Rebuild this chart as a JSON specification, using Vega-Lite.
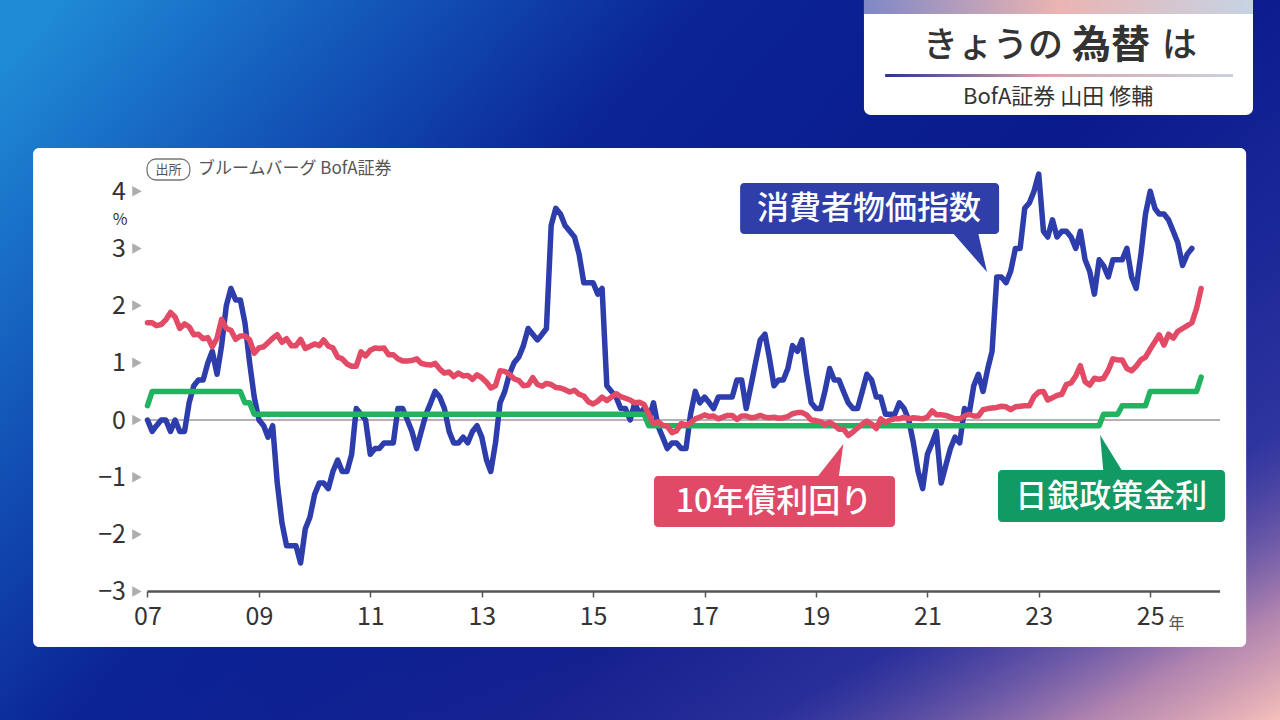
{
  "$schema": "https://vega.github.io/schema/vega-lite/v6.json",
  "width": 1280,
  "height": 720,
  "autosize": "none",
  "padding": 0,
  "background": "#0b1e92",
  "config": {"view": {"stroke": null}, "font": "Noto Sans CJK JP", "axis": {"grid": false, "domain": false, "title": null}},
  "datasets": {
    "series": [
      {"date":"2007-01","cpi":0.0,"jgb":1.70,"boj":0.25},
      {"date":"2007-02","cpi":-0.2,"jgb":1.70,"boj":0.5},
      {"date":"2007-03","cpi":-0.1,"jgb":1.65,"boj":0.5},
      {"date":"2007-04","cpi":0.0,"jgb":1.67,"boj":0.5},
      {"date":"2007-05","cpi":0.0,"jgb":1.75,"boj":0.5},
      {"date":"2007-06","cpi":-0.2,"jgb":1.88,"boj":0.5},
      {"date":"2007-07","cpi":0.0,"jgb":1.80,"boj":0.5},
      {"date":"2007-08","cpi":-0.2,"jgb":1.60,"boj":0.5},
      {"date":"2007-09","cpi":-0.2,"jgb":1.68,"boj":0.5},
      {"date":"2007-10","cpi":0.3,"jgb":1.63,"boj":0.5},
      {"date":"2007-11","cpi":0.6,"jgb":1.49,"boj":0.5},
      {"date":"2007-12","cpi":0.7,"jgb":1.50,"boj":0.5},
      {"date":"2008-01","cpi":0.7,"jgb":1.42,"boj":0.5},
      {"date":"2008-02","cpi":1.0,"jgb":1.44,"boj":0.5},
      {"date":"2008-03","cpi":1.2,"jgb":1.28,"boj":0.5},
      {"date":"2008-04","cpi":0.8,"jgb":1.43,"boj":0.5},
      {"date":"2008-05","cpi":1.3,"jgb":1.76,"boj":0.5},
      {"date":"2008-06","cpi":2.0,"jgb":1.60,"boj":0.5},
      {"date":"2008-07","cpi":2.3,"jgb":1.57,"boj":0.5},
      {"date":"2008-08","cpi":2.1,"jgb":1.41,"boj":0.5},
      {"date":"2008-09","cpi":2.1,"jgb":1.47,"boj":0.5},
      {"date":"2008-10","cpi":1.7,"jgb":1.47,"boj":0.3},
      {"date":"2008-11","cpi":1.0,"jgb":1.40,"boj":0.3},
      {"date":"2008-12","cpi":0.4,"jgb":1.17,"boj":0.1},
      {"date":"2009-01","cpi":0.0,"jgb":1.26,"boj":0.1},
      {"date":"2009-02","cpi":-0.1,"jgb":1.28,"boj":0.1},
      {"date":"2009-03","cpi":-0.3,"jgb":1.35,"boj":0.1},
      {"date":"2009-04","cpi":-0.1,"jgb":1.43,"boj":0.1},
      {"date":"2009-05","cpi":-1.1,"jgb":1.49,"boj":0.1},
      {"date":"2009-06","cpi":-1.8,"jgb":1.36,"boj":0.1},
      {"date":"2009-07","cpi":-2.2,"jgb":1.42,"boj":0.1},
      {"date":"2009-08","cpi":-2.2,"jgb":1.30,"boj":0.1},
      {"date":"2009-09","cpi":-2.2,"jgb":1.30,"boj":0.1},
      {"date":"2009-10","cpi":-2.5,"jgb":1.41,"boj":0.1},
      {"date":"2009-11","cpi":-1.9,"jgb":1.25,"boj":0.1},
      {"date":"2009-12","cpi":-1.7,"jgb":1.29,"boj":0.1},
      {"date":"2010-01","cpi":-1.3,"jgb":1.33,"boj":0.1},
      {"date":"2010-02","cpi":-1.1,"jgb":1.30,"boj":0.1},
      {"date":"2010-03","cpi":-1.1,"jgb":1.40,"boj":0.1},
      {"date":"2010-04","cpi":-1.2,"jgb":1.29,"boj":0.1},
      {"date":"2010-05","cpi":-0.9,"jgb":1.26,"boj":0.1},
      {"date":"2010-06","cpi":-0.7,"jgb":1.10,"boj":0.1},
      {"date":"2010-07","cpi":-0.9,"jgb":1.07,"boj":0.1},
      {"date":"2010-08","cpi":-0.9,"jgb":0.98,"boj":0.1},
      {"date":"2010-09","cpi":-0.6,"jgb":0.94,"boj":0.1},
      {"date":"2010-10","cpi":0.2,"jgb":0.94,"boj":0.1},
      {"date":"2010-11","cpi":0.1,"jgb":1.19,"boj":0.1},
      {"date":"2010-12","cpi":0.0,"jgb":1.12,"boj":0.1},
      {"date":"2011-01","cpi":-0.6,"jgb":1.22,"boj":0.1},
      {"date":"2011-02","cpi":-0.5,"jgb":1.26,"boj":0.1},
      {"date":"2011-03","cpi":-0.5,"jgb":1.25,"boj":0.1},
      {"date":"2011-04","cpi":-0.4,"jgb":1.26,"boj":0.1},
      {"date":"2011-05","cpi":-0.4,"jgb":1.14,"boj":0.1},
      {"date":"2011-06","cpi":-0.4,"jgb":1.14,"boj":0.1},
      {"date":"2011-07","cpi":0.2,"jgb":1.07,"boj":0.1},
      {"date":"2011-08","cpi":0.2,"jgb":1.03,"boj":0.1},
      {"date":"2011-09","cpi":0.0,"jgb":1.03,"boj":0.1},
      {"date":"2011-10","cpi":-0.2,"jgb":1.04,"boj":0.1},
      {"date":"2011-11","cpi":-0.5,"jgb":1.07,"boj":0.1},
      {"date":"2011-12","cpi":-0.2,"jgb":0.99,"boj":0.1},
      {"date":"2012-01","cpi":0.1,"jgb":0.97,"boj":0.1},
      {"date":"2012-02","cpi":0.3,"jgb":0.96,"boj":0.1},
      {"date":"2012-03","cpi":0.5,"jgb":0.99,"boj":0.1},
      {"date":"2012-04","cpi":0.4,"jgb":0.89,"boj":0.1},
      {"date":"2012-05","cpi":0.2,"jgb":0.82,"boj":0.1},
      {"date":"2012-06","cpi":-0.2,"jgb":0.84,"boj":0.1},
      {"date":"2012-07","cpi":-0.4,"jgb":0.76,"boj":0.1},
      {"date":"2012-08","cpi":-0.4,"jgb":0.82,"boj":0.1},
      {"date":"2012-09","cpi":-0.3,"jgb":0.77,"boj":0.1},
      {"date":"2012-10","cpi":-0.4,"jgb":0.78,"boj":0.1},
      {"date":"2012-11","cpi":-0.2,"jgb":0.71,"boj":0.1},
      {"date":"2012-12","cpi":-0.1,"jgb":0.79,"boj":0.1},
      {"date":"2013-01","cpi":-0.3,"jgb":0.74,"boj":0.1},
      {"date":"2013-02","cpi":-0.7,"jgb":0.66,"boj":0.1},
      {"date":"2013-03","cpi":-0.9,"jgb":0.56,"boj":0.1},
      {"date":"2013-04","cpi":-0.4,"jgb":0.60,"boj":0.1},
      {"date":"2013-05","cpi":0.3,"jgb":0.86,"boj":0.1},
      {"date":"2013-06","cpi":0.5,"jgb":0.85,"boj":0.1},
      {"date":"2013-07","cpi":0.8,"jgb":0.80,"boj":0.1},
      {"date":"2013-08","cpi":1.0,"jgb":0.72,"boj":0.1},
      {"date":"2013-09","cpi":1.1,"jgb":0.69,"boj":0.1},
      {"date":"2013-10","cpi":1.3,"jgb":0.60,"boj":0.1},
      {"date":"2013-11","cpi":1.6,"jgb":0.61,"boj":0.1},
      {"date":"2013-12","cpi":1.5,"jgb":0.74,"boj":0.1},
      {"date":"2014-01","cpi":1.4,"jgb":0.62,"boj":0.1},
      {"date":"2014-02","cpi":1.5,"jgb":0.59,"boj":0.1},
      {"date":"2014-03","cpi":1.6,"jgb":0.64,"boj":0.1},
      {"date":"2014-04","cpi":3.4,"jgb":0.62,"boj":0.1},
      {"date":"2014-05","cpi":3.7,"jgb":0.57,"boj":0.1},
      {"date":"2014-06","cpi":3.6,"jgb":0.56,"boj":0.1},
      {"date":"2014-07","cpi":3.4,"jgb":0.53,"boj":0.1},
      {"date":"2014-08","cpi":3.3,"jgb":0.49,"boj":0.1},
      {"date":"2014-09","cpi":3.2,"jgb":0.52,"boj":0.1},
      {"date":"2014-10","cpi":2.9,"jgb":0.45,"boj":0.1},
      {"date":"2014-11","cpi":2.4,"jgb":0.42,"boj":0.1},
      {"date":"2014-12","cpi":2.4,"jgb":0.32,"boj":0.1},
      {"date":"2015-01","cpi":2.4,"jgb":0.28,"boj":0.1},
      {"date":"2015-02","cpi":2.2,"jgb":0.33,"boj":0.1},
      {"date":"2015-03","cpi":2.3,"jgb":0.40,"boj":0.1},
      {"date":"2015-04","cpi":0.6,"jgb":0.34,"boj":0.1},
      {"date":"2015-05","cpi":0.5,"jgb":0.40,"boj":0.1},
      {"date":"2015-06","cpi":0.4,"jgb":0.46,"boj":0.1},
      {"date":"2015-07","cpi":0.2,"jgb":0.41,"boj":0.1},
      {"date":"2015-08","cpi":0.2,"jgb":0.38,"boj":0.1},
      {"date":"2015-09","cpi":0.0,"jgb":0.35,"boj":0.1},
      {"date":"2015-10","cpi":0.3,"jgb":0.30,"boj":0.1},
      {"date":"2015-11","cpi":0.1,"jgb":0.31,"boj":0.1},
      {"date":"2015-12","cpi":0.2,"jgb":0.27,"boj":0.1},
      {"date":"2016-01","cpi":0.0,"jgb":0.10,"boj":-0.1},
      {"date":"2016-02","cpi":0.3,"jgb":-0.06,"boj":-0.1},
      {"date":"2016-03","cpi":-0.1,"jgb":-0.03,"boj":-0.1},
      {"date":"2016-04","cpi":-0.3,"jgb":-0.09,"boj":-0.1},
      {"date":"2016-05","cpi":-0.5,"jgb":-0.11,"boj":-0.1},
      {"date":"2016-06","cpi":-0.4,"jgb":-0.22,"boj":-0.1},
      {"date":"2016-07","cpi":-0.4,"jgb":-0.19,"boj":-0.1},
      {"date":"2016-08","cpi":-0.5,"jgb":-0.06,"boj":-0.1},
      {"date":"2016-09","cpi":-0.5,"jgb":-0.09,"boj":-0.1},
      {"date":"2016-10","cpi":0.1,"jgb":-0.05,"boj":-0.1},
      {"date":"2016-11","cpi":0.5,"jgb":0.02,"boj":-0.1},
      {"date":"2016-12","cpi":0.3,"jgb":0.05,"boj":-0.1},
      {"date":"2017-01","cpi":0.4,"jgb":0.09,"boj":-0.1},
      {"date":"2017-02","cpi":0.3,"jgb":0.06,"boj":-0.1},
      {"date":"2017-03","cpi":0.2,"jgb":0.07,"boj":-0.1},
      {"date":"2017-04","cpi":0.4,"jgb":0.02,"boj":-0.1},
      {"date":"2017-05","cpi":0.4,"jgb":0.05,"boj":-0.1},
      {"date":"2017-06","cpi":0.4,"jgb":0.08,"boj":-0.1},
      {"date":"2017-07","cpi":0.4,"jgb":0.08,"boj":-0.1},
      {"date":"2017-08","cpi":0.7,"jgb":0.01,"boj":-0.1},
      {"date":"2017-09","cpi":0.7,"jgb":0.07,"boj":-0.1},
      {"date":"2017-10","cpi":0.2,"jgb":0.07,"boj":-0.1},
      {"date":"2017-11","cpi":0.6,"jgb":0.04,"boj":-0.1},
      {"date":"2017-12","cpi":1.0,"jgb":0.05,"boj":-0.1},
      {"date":"2018-01","cpi":1.4,"jgb":0.08,"boj":-0.1},
      {"date":"2018-02","cpi":1.5,"jgb":0.05,"boj":-0.1},
      {"date":"2018-03","cpi":1.1,"jgb":0.04,"boj":-0.1},
      {"date":"2018-04","cpi":0.6,"jgb":0.05,"boj":-0.1},
      {"date":"2018-05","cpi":0.7,"jgb":0.03,"boj":-0.1},
      {"date":"2018-06","cpi":0.7,"jgb":0.04,"boj":-0.1},
      {"date":"2018-07","cpi":0.9,"jgb":0.06,"boj":-0.1},
      {"date":"2018-08","cpi":1.3,"jgb":0.11,"boj":-0.1},
      {"date":"2018-09","cpi":1.2,"jgb":0.13,"boj":-0.1},
      {"date":"2018-10","cpi":1.4,"jgb":0.13,"boj":-0.1},
      {"date":"2018-11","cpi":0.8,"jgb":0.09,"boj":-0.1},
      {"date":"2018-12","cpi":0.3,"jgb":0.00,"boj":-0.1},
      {"date":"2019-01","cpi":0.2,"jgb":-0.01,"boj":-0.1},
      {"date":"2019-02","cpi":0.2,"jgb":-0.03,"boj":-0.1},
      {"date":"2019-03","cpi":0.5,"jgb":-0.08,"boj":-0.1},
      {"date":"2019-04","cpi":0.9,"jgb":-0.04,"boj":-0.1},
      {"date":"2019-05","cpi":0.7,"jgb":-0.09,"boj":-0.1},
      {"date":"2019-06","cpi":0.7,"jgb":-0.16,"boj":-0.1},
      {"date":"2019-07","cpi":0.5,"jgb":-0.16,"boj":-0.1},
      {"date":"2019-08","cpi":0.3,"jgb":-0.27,"boj":-0.1},
      {"date":"2019-09","cpi":0.2,"jgb":-0.21,"boj":-0.1},
      {"date":"2019-10","cpi":0.2,"jgb":-0.14,"boj":-0.1},
      {"date":"2019-11","cpi":0.5,"jgb":-0.07,"boj":-0.1},
      {"date":"2019-12","cpi":0.8,"jgb":-0.02,"boj":-0.1},
      {"date":"2020-01","cpi":0.7,"jgb":-0.07,"boj":-0.1},
      {"date":"2020-02","cpi":0.4,"jgb":-0.15,"boj":-0.1},
      {"date":"2020-03","cpi":0.4,"jgb":0.02,"boj":-0.1},
      {"date":"2020-04","cpi":0.1,"jgb":-0.04,"boj":-0.1},
      {"date":"2020-05","cpi":0.1,"jgb":0.00,"boj":-0.1},
      {"date":"2020-06","cpi":0.1,"jgb":0.02,"boj":-0.1},
      {"date":"2020-07","cpi":0.3,"jgb":0.02,"boj":-0.1},
      {"date":"2020-08","cpi":0.2,"jgb":0.05,"boj":-0.1},
      {"date":"2020-09","cpi":0.0,"jgb":0.02,"boj":-0.1},
      {"date":"2020-10","cpi":-0.4,"jgb":0.04,"boj":-0.1},
      {"date":"2020-11","cpi":-0.9,"jgb":0.03,"boj":-0.1},
      {"date":"2020-12","cpi":-1.2,"jgb":0.02,"boj":-0.1},
      {"date":"2021-01","cpi":-0.6,"jgb":0.05,"boj":-0.1},
      {"date":"2021-02","cpi":-0.4,"jgb":0.16,"boj":-0.1},
      {"date":"2021-03","cpi":-0.2,"jgb":0.09,"boj":-0.1},
      {"date":"2021-04","cpi":-1.1,"jgb":0.09,"boj":-0.1},
      {"date":"2021-05","cpi":-0.8,"jgb":0.08,"boj":-0.1},
      {"date":"2021-06","cpi":-0.5,"jgb":0.05,"boj":-0.1},
      {"date":"2021-07","cpi":-0.3,"jgb":0.02,"boj":-0.1},
      {"date":"2021-08","cpi":-0.4,"jgb":0.02,"boj":-0.1},
      {"date":"2021-09","cpi":0.2,"jgb":0.07,"boj":-0.1},
      {"date":"2021-10","cpi":0.1,"jgb":0.10,"boj":-0.1},
      {"date":"2021-11","cpi":0.6,"jgb":0.07,"boj":-0.1},
      {"date":"2021-12","cpi":0.8,"jgb":0.07,"boj":-0.1},
      {"date":"2022-01","cpi":0.5,"jgb":0.18,"boj":-0.1},
      {"date":"2022-02","cpi":0.9,"jgb":0.20,"boj":-0.1},
      {"date":"2022-03","cpi":1.2,"jgb":0.21,"boj":-0.1},
      {"date":"2022-04","cpi":2.5,"jgb":0.22,"boj":-0.1},
      {"date":"2022-05","cpi":2.5,"jgb":0.24,"boj":-0.1},
      {"date":"2022-06","cpi":2.4,"jgb":0.23,"boj":-0.1},
      {"date":"2022-07","cpi":2.6,"jgb":0.18,"boj":-0.1},
      {"date":"2022-08","cpi":3.0,"jgb":0.23,"boj":-0.1},
      {"date":"2022-09","cpi":3.0,"jgb":0.24,"boj":-0.1},
      {"date":"2022-10","cpi":3.7,"jgb":0.25,"boj":-0.1},
      {"date":"2022-11","cpi":3.8,"jgb":0.25,"boj":-0.1},
      {"date":"2022-12","cpi":4.0,"jgb":0.41,"boj":-0.1},
      {"date":"2023-01","cpi":4.3,"jgb":0.49,"boj":-0.1},
      {"date":"2023-02","cpi":3.3,"jgb":0.50,"boj":-0.1},
      {"date":"2023-03","cpi":3.2,"jgb":0.35,"boj":-0.1},
      {"date":"2023-04","cpi":3.5,"jgb":0.39,"boj":-0.1},
      {"date":"2023-05","cpi":3.2,"jgb":0.43,"boj":-0.1},
      {"date":"2023-06","cpi":3.3,"jgb":0.45,"boj":-0.1},
      {"date":"2023-07","cpi":3.3,"jgb":0.62,"boj":-0.1},
      {"date":"2023-08","cpi":3.2,"jgb":0.65,"boj":-0.1},
      {"date":"2023-09","cpi":3.0,"jgb":0.77,"boj":-0.1},
      {"date":"2023-10","cpi":3.3,"jgb":0.95,"boj":-0.1},
      {"date":"2023-11","cpi":2.8,"jgb":0.67,"boj":-0.1},
      {"date":"2023-12","cpi":2.6,"jgb":0.61,"boj":-0.1},
      {"date":"2024-01","cpi":2.2,"jgb":0.73,"boj":-0.1},
      {"date":"2024-02","cpi":2.8,"jgb":0.71,"boj":-0.1},
      {"date":"2024-03","cpi":2.7,"jgb":0.73,"boj":0.1},
      {"date":"2024-04","cpi":2.5,"jgb":0.87,"boj":0.1},
      {"date":"2024-05","cpi":2.8,"jgb":1.07,"boj":0.1},
      {"date":"2024-06","cpi":2.8,"jgb":1.05,"boj":0.1},
      {"date":"2024-07","cpi":2.8,"jgb":1.05,"boj":0.25},
      {"date":"2024-08","cpi":3.0,"jgb":0.90,"boj":0.25},
      {"date":"2024-09","cpi":2.5,"jgb":0.86,"boj":0.25},
      {"date":"2024-10","cpi":2.3,"jgb":0.94,"boj":0.25},
      {"date":"2024-11","cpi":2.9,"jgb":1.05,"boj":0.25},
      {"date":"2024-12","cpi":3.6,"jgb":1.10,"boj":0.25},
      {"date":"2025-01","cpi":4.0,"jgb":1.24,"boj":0.5},
      {"date":"2025-02","cpi":3.7,"jgb":1.37,"boj":0.5},
      {"date":"2025-03","cpi":3.6,"jgb":1.49,"boj":0.5},
      {"date":"2025-04","cpi":3.6,"jgb":1.31,"boj":0.5},
      {"date":"2025-05","cpi":3.5,"jgb":1.50,"boj":0.5},
      {"date":"2025-06","cpi":3.3,"jgb":1.43,"boj":0.5},
      {"date":"2025-07","cpi":3.1,"jgb":1.55,"boj":0.5},
      {"date":"2025-08","cpi":2.7,"jgb":1.60,"boj":0.5},
      {"date":"2025-09","cpi":2.9,"jgb":1.65,"boj":0.5},
      {"date":"2025-10","cpi":3.0,"jgb":1.70,"boj":0.5},
      {"date":"2025-11","cpi":null,"jgb":1.95,"boj":0.5},
      {"date":"2025-12","cpi":null,"jgb":2.30,"boj":0.75}
    ],
    "yticks": [{"v":-3},{"v":-2},{"v":-1},{"v":0},{"v":1},{"v":2},{"v":3},{"v":4}],
    "one": [{}]
  },
  "layer": [
    {
      "data": {"name": "series"},
      "mark": {"type": "line", "color": "#2d3dab", "strokeWidth": 0, "opacity": 0},
      "encoding": {
        "x": {"field": "date", "type": "temporal",
          "scale": {"domain": [{"year":2004,"month":5,"date":9}, {"year":2027,"month":5,"date":2}], "nice": false},
          "axis": {"orient": "bottom", "offset": -129, "title": null, "format": "%y",
            "values": [{"year":2007,"month":1,"date":1},{"year":2009,"month":1,"date":1},{"year":2011,"month":1,"date":1},{"year":2013,"month":1,"date":1},{"year":2015,"month":1,"date":1},{"year":2017,"month":1,"date":1},{"year":2019,"month":1,"date":1},{"year":2021,"month":1,"date":1},{"year":2023,"month":1,"date":1},{"year":2025,"month":1,"date":1}],
            "domain": false, "grid": false, "ticks": true, "tickSize": 6, "tickColor": "#555555", "tickWidth": 1.5,
            "labelFontSize": 25, "labelColor": "#333333", "labelFont": "Noto Sans CJK JP", "labelPadding": 7,
            "labelFlush": false, "labelOverlap": false, "zindex": 1}},
        "y": {"field": "cpi", "type": "quantitative",
          "scale": {"domain": [-5.245, 7.343], "nice": false, "zero": false},
          "axis": {"orient": "left", "offset": -147.5, "title": null, "format": "d",
            "values": [-3,-2,-1,0,1,2,3,4],
            "domain": false, "grid": false, "ticks": false, "tickSize": 0,
            "labelFontSize": 25, "labelColor": "#333333", "labelFont": "Noto Sans CJK JP", "labelPadding": 22,
            "labelOverlap": false, "zindex": 1}}
      }
    },
    {
      "data": {"name": "one"},
      "mark": {"type": "rect", "fill": {"gradient": "linear", "x1": 0, "y1": 0.1, "x2": 1, "y2": 0.6, "stops": [
        {"offset": 0, "color": "#1f8ad6"},
        {"offset": 0.2, "color": "#1356b8"},
        {"offset": 0.4, "color": "#0b2496"},
        {"offset": 0.7, "color": "#0a1a8c"},
        {"offset": 1, "color": "#1a2a9c"}]}},
      "encoding": {
        "x": {"datum": {"year":2004,"month":5,"date":9}, "type": "temporal"},
        "x2": {"datum": {"year":2027,"month":5,"date":2}},
        "y": {"datum": -5.245, "type": "quantitative"},
        "y2": {"datum": 7.343}
      }
    },
    {
      "data": {"name": "one"},
      "mark": {"type": "rect", "fill": {"gradient": "linear", "x1": 0.5, "y1": 0.5, "x2": 1, "y2": 1, "stops": [
        {"offset": 0, "color": "rgba(40,40,150,0)"},
        {"offset": 0.6, "color": "rgba(110,85,170,0.25)"},
        {"offset": 0.85, "color": "rgba(215,155,180,0.8)"},
        {"offset": 1, "color": "rgba(246,192,186,1)"}]}},
      "encoding": {
        "x": {"datum": {"year":2004,"month":5,"date":9}, "type": "temporal"},
        "x2": {"datum": {"year":2027,"month":5,"date":2}},
        "y": {"datum": -5.245, "type": "quantitative"},
        "y2": {"datum": 7.343}
      }
    },
    {
      "data": {"name": "one"},
      "mark": {"type": "rect", "fill": "#ffffff", "cornerRadius": 6},
      "encoding": {
        "x": {"datum": {"year":2004,"month":12,"date":12}, "type": "temporal"},
        "x2": {"datum": {"year":2026,"month":9,"date":22}},
        "y": {"datum": 4.755, "type": "quantitative"},
        "y2": {"datum": -3.969}
      }
    },
    {
      "data": {"name": "one"},
      "mark": {"type": "rect", "fill": "#ffffff", "cornerRadiusBottomLeft": 7, "cornerRadiusBottomRight": 7},
      "encoding": {
        "x": {"datum": {"year":2019,"month":11,"date":12}, "type": "temporal"},
        "x2": {"datum": {"year":2026,"month":11,"date":6}},
        "y": {"datum": 7.343, "type": "quantitative"},
        "y2": {"datum": 5.332}
      }
    },
    {
      "data": {"name": "one"},
      "mark": {"type": "rect", "fill": {"gradient": "linear", "x1": 0, "y1": 0, "x2": 1, "y2": 0, "stops": [
        {"offset": 0, "color": "#7f87c6"},
        {"offset": 0.5, "color": "#eab4b2"},
        {"offset": 1, "color": "#c6d3e4"}]}},
      "encoding": {
        "x": {"datum": {"year":2019,"month":11,"date":12}, "type": "temporal"},
        "x2": {"datum": {"year":2026,"month":11,"date":6}},
        "y": {"datum": 7.343, "type": "quantitative"},
        "y2": {"datum": 7.098}
      }
    },
    {
      "data": {"name": "one"},
      "mark": {"type": "rect", "fill": {"gradient": "linear", "x1": 0, "y1": 0, "x2": 1, "y2": 0, "stops": [
        {"offset": 0, "color": "#2c3392"},
        {"offset": 0.45, "color": "#d9a2aa"},
        {"offset": 1, "color": "#c9d2de"}]}},
      "encoding": {
        "x": {"datum": {"year":2020,"month":3,"date":30}, "type": "temporal"},
        "x2": {"datum": {"year":2026,"month":6,"date":28}},
        "y": {"datum": 6.049, "type": "quantitative"},
        "y2": {"datum": 5.997}
      }
    },
    {
      "data": {"name": "one"},
      "mark": {"type": "text", "text": "きょうの", "align": "right", "baseline": "middle", "fontSize": 35, "fontWeight": 500, "color": "#333333"},
      "encoding": {
        "x": {"datum": {"year":2023,"month":6,"date":9}, "type": "temporal"},
        "y": {"datum": 6.538, "type": "quantitative"}
      }
    },
    {
      "data": {"name": "one"},
      "mark": {"type": "text", "text": "為替", "align": "left", "baseline": "middle", "fontSize": 39, "fontWeight": "bold", "color": "#333333"},
      "encoding": {
        "x": {"datum": {"year":2023,"month":8,"date":7}, "type": "temporal"},
        "y": {"datum": 6.538, "type": "quantitative"}
      }
    },
    {
      "data": {"name": "one"},
      "mark": {"type": "text", "text": "は", "align": "left", "baseline": "middle", "fontSize": 35, "fontWeight": 500, "color": "#333333"},
      "encoding": {
        "x": {"datum": {"year":2025,"month":3,"date":20}, "type": "temporal"},
        "y": {"datum": 6.538, "type": "quantitative"}
      }
    },
    {
      "data": {"name": "one"},
      "mark": {"type": "text", "text": "BofA証券 山田 修輔", "align": "center", "baseline": "middle", "fontSize": 22, "color": "#333333"},
      "encoding": {
        "x": {"datum": {"year":2023,"month":5,"date":8}, "type": "temporal"},
        "y": {"datum": 5.647, "type": "quantitative"}
      }
    },
    {
      "data": {"name": "one"},
      "mark": {"type": "rect", "fill": "#ffffff", "stroke": "#777777", "strokeWidth": 1.3, "cornerRadius": 9},
      "encoding": {
        "x": {"datum": {"year":2006,"month":12,"date":29}, "type": "temporal"},
        "x2": {"datum": {"year":2007,"month":10,"date":6}},
        "y": {"datum": 4.563, "type": "quantitative"},
        "y2": {"datum": 4.196}
      }
    },
    {
      "data": {"name": "one"},
      "mark": {"type": "text", "text": "出所", "align": "center", "baseline": "middle", "fontSize": 13, "color": "#555555"},
      "encoding": {
        "x": {"datum": {"year":2007,"month":5,"date":19}, "type": "temporal"},
        "y": {"datum": 4.379, "type": "quantitative"}
      }
    },
    {
      "data": {"name": "one"},
      "mark": {"type": "text", "text": "ブルームバーグ BofA証券", "align": "left", "baseline": "middle", "fontSize": 17, "color": "#555555"},
      "encoding": {
        "x": {"datum": {"year":2007,"month":11,"date":28}, "type": "temporal"},
        "y": {"datum": 4.388, "type": "quantitative"}
      }
    },
    {
      "data": {"name": "one"},
      "mark": {"type": "text", "text": "%", "align": "center", "baseline": "middle", "fontSize": 16, "color": "#333333"},
      "encoding": {
        "x": {"datum": {"year":2006,"month":7,"date":5}, "type": "temporal"},
        "y": {"datum": 3.497, "type": "quantitative"}
      }
    },
    {
      "data": {"name": "one"},
      "mark": {"type": "text", "text": "年", "align": "left", "baseline": "middle", "fontSize": 16, "color": "#555555"},
      "encoding": {
        "x": {"datum": {"year":2025,"month":5,"date":1}, "type": "temporal"},
        "y": {"datum": -3.566, "type": "quantitative"}
      }
    },
    {
      "data": {"name": "one"},
      "mark": {"type": "rule", "color": "#9a9a9a", "strokeWidth": 1.5},
      "encoding": {
        "x": {"datum": {"year":2007,"month":1,"date":1}, "type": "temporal"},
        "x2": {"datum": {"year":2026,"month":4,"date":4}},
        "y": {"datum": 0, "type": "quantitative"}
      }
    },
    {
      "data": {"name": "one"},
      "mark": {"type": "rule", "color": "#555555", "strokeWidth": 2.5},
      "encoding": {
        "x": {"datum": {"year":2007,"month":1,"date":1}, "type": "temporal"},
        "x2": {"datum": {"year":2026,"month":4,"date":4}},
        "y": {"datum": -3, "type": "quantitative"}
      }
    },
    {
      "data": {"name": "yticks"},
      "mark": {"type": "point", "shape": "M -0.8 -1 L 1 0 L -0.8 1 Z", "filled": true, "size": 110, "color": "#adadad", "opacity": 1, "strokeWidth": 0, "xOffset": -11},
      "encoding": {
        "x": {"datum": {"year":2007,"month":1,"date":1}, "type": "temporal"},
        "y": {"field": "v", "type": "quantitative"}
      }
    },
    {
      "data": {"name": "series"},
      "mark": {"type": "line", "color": "#2d3dab", "strokeWidth": 5.5, "strokeJoin": "round", "strokeCap": "round"},
      "encoding": {
        "x": {"field": "date", "type": "temporal"},
        "y": {"field": "cpi", "type": "quantitative"}
      }
    },
    {
      "data": {"name": "series"},
      "mark": {"type": "line", "color": "#22b360", "strokeWidth": 5.5, "strokeJoin": "round", "strokeCap": "round"},
      "encoding": {
        "x": {"field": "date", "type": "temporal"},
        "y": {"field": "boj", "type": "quantitative"}
      }
    },
    {
      "data": {"name": "series"},
      "mark": {"type": "line", "color": "#e24a66", "strokeWidth": 5.5, "strokeJoin": "round", "strokeCap": "round"},
      "encoding": {
        "x": {"field": "date", "type": "temporal"},
        "y": {"field": "jgb", "type": "quantitative"}
      }
    },
    {
      "data": {"name": "one"},
      "mark": {"type": "rect", "fill": "#2f3ea8", "cornerRadius": 4},
      "encoding": {
        "x": {"datum": {"year":2017,"month":8,"date":22}, "type": "temporal"},
        "x2": {"datum": {"year":2022,"month":4,"date":16}},
        "y": {"datum": 4.143, "type": "quantitative"},
        "y2": {"datum": 3.252}
      }
    },
    {
      "data": {"name": "one"},
      "mark": {"type": "point", "shape": "M -0.8 -1 L 0.5 -1 L 0.95 1 Z", "filled": true, "size": 1600, "color": "#2f3ea8", "opacity": 1, "strokeWidth": 0},
      "encoding": {
        "x": {"datum": {"year":2021,"month":9,"date":24}, "type": "temporal"},
        "y": {"datum": 2.937, "type": "quantitative"}
      }
    },
    {
      "data": {"name": "one"},
      "mark": {"type": "text", "text": "消費者物価指数", "align": "center", "baseline": "middle", "fontSize": 32, "fontWeight": 500, "color": "#ffffff"},
      "encoding": {
        "x": {"datum": {"year":2019,"month":12,"date":15}, "type": "temporal"},
        "y": {"datum": 3.689, "type": "quantitative"}
      }
    },
    {
      "data": {"name": "one"},
      "mark": {"type": "rect", "fill": "#e04a66", "cornerRadius": 4},
      "encoding": {
        "x": {"datum": {"year":2016,"month":2,"date":4}, "type": "temporal"},
        "x2": {"datum": {"year":2020,"month":6,"date":3}},
        "y": {"datum": -0.979, "type": "quantitative"},
        "y2": {"datum": -1.871}
      }
    },
    {
      "data": {"name": "one"},
      "mark": {"type": "point", "shape": "M -0.75 1 L 0.42 1 L 0.67 -0.8 Z", "filled": true, "size": 1600, "color": "#e04a66", "opacity": 1, "strokeWidth": 0},
      "encoding": {
        "x": {"datum": {"year":2019,"month":4,"date":3}, "type": "temporal"},
        "y": {"datum": -0.699, "type": "quantitative"}
      }
    },
    {
      "data": {"name": "one"},
      "mark": {"type": "text", "text": "10年債利回り", "align": "center", "baseline": "middle", "fontSize": 32, "fontWeight": 500, "color": "#ffffff"},
      "encoding": {
        "x": {"datum": {"year":2018,"month":4,"date":1}, "type": "temporal"},
        "y": {"datum": -1.434, "type": "quantitative"}
      }
    },
    {
      "data": {"name": "one"},
      "mark": {"type": "rect", "fill": "#129a64", "cornerRadius": 4},
      "encoding": {
        "x": {"datum": {"year":2022,"month":4,"date":9}, "type": "temporal"},
        "x2": {"datum": {"year":2026,"month":5,"date":7}},
        "y": {"datum": -0.874, "type": "quantitative"},
        "y2": {"datum": -1.783}
      }
    },
    {
      "data": {"name": "one"},
      "mark": {"type": "point", "shape": "M -0.43 1 L 0.57 1 L -0.6 -0.9 Z", "filled": true, "size": 1600, "color": "#129a64", "opacity": 1, "strokeWidth": 0},
      "encoding": {
        "x": {"datum": {"year":2024,"month":4,"date":26}, "type": "temporal"},
        "y": {"datum": -0.577, "type": "quantitative"}
      }
    },
    {
      "data": {"name": "one"},
      "mark": {"type": "text", "text": "日銀政策金利", "align": "center", "baseline": "middle", "fontSize": 32, "fontWeight": 500, "color": "#ffffff"},
      "encoding": {
        "x": {"datum": {"year":2024,"month":4,"date":20}, "type": "temporal"},
        "y": {"datum": -1.346, "type": "quantitative"}
      }
    }
  ]
}
